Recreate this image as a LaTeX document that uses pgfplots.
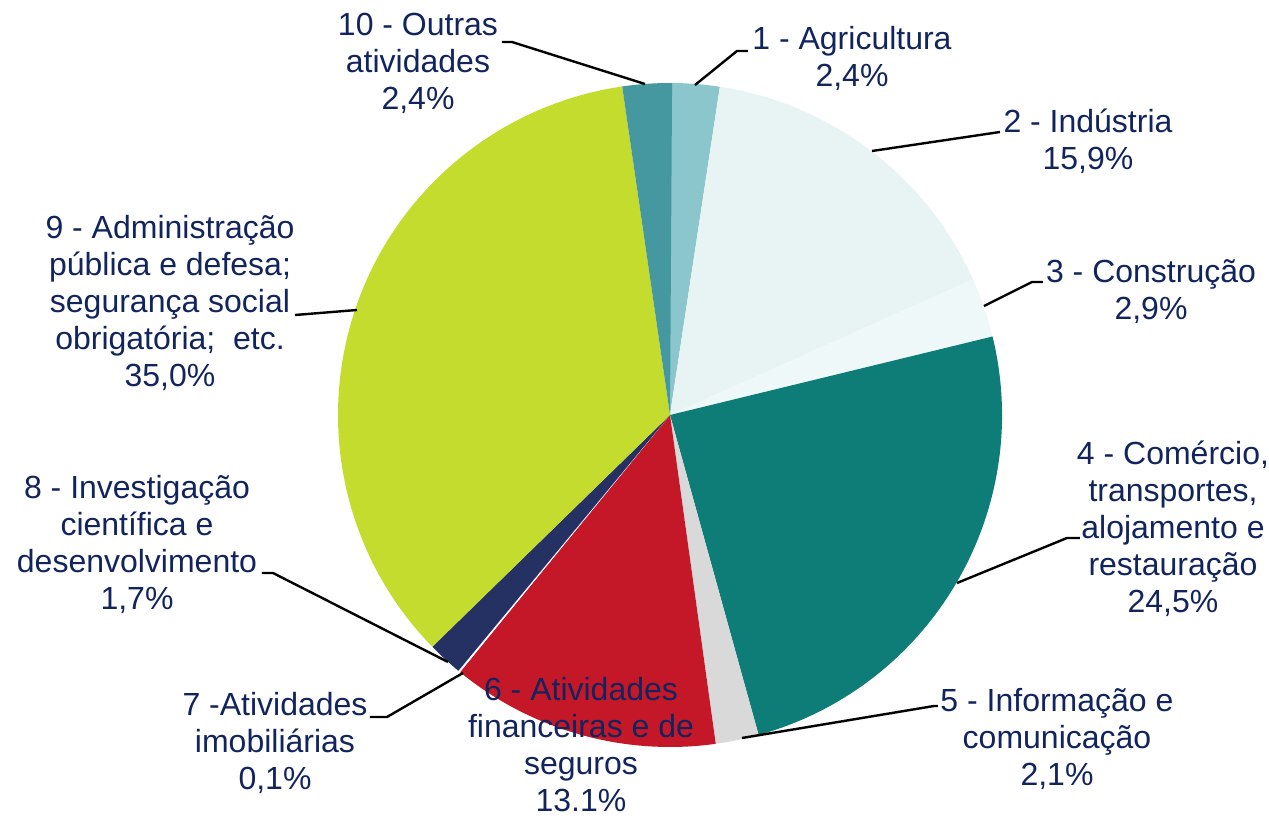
\documentclass[border=0pt]{standalone}
\usepackage{fontspec}
\setmainfont{Liberation Sans}
\usepackage{pgfplots}
\usepackage{pgfplotstable}
\pgfplotsset{compat=1.18}

\definecolor{c1}{HTML}{8AC6CC}
\definecolor{c2}{HTML}{E8F4F4}
\definecolor{c3}{HTML}{EFF8F8}
\definecolor{c4}{HTML}{0E7C77}
\definecolor{c5}{HTML}{D9D9D9}
\definecolor{c6}{HTML}{C41828}
\definecolor{c7}{HTML}{FFFFFF}
\definecolor{c8}{HTML}{263163}
\definecolor{c9}{HTML}{C4DC2E}
\definecolor{c10}{HTML}{4598A0}
\definecolor{txt}{HTML}{12245E}

% anchor=base sits on the last line of a multi-line label
\tikzset{
    lbl/.style={font=\fontsize{16}{18.5}\selectfont, text=txt,
        align=center, anchor=base, inner sep=0pt},
    leader/.style={black, line width=1.2pt},
}

% share of each sector, clockwise from 12 o'clock
\pgfplotstableread{
val  col
2.4  c1
15.9 c2
2.9  c3
24.5 c4
2.1  c5
13.1 c6
0.1  c7
1.7  c8
35.0 c9
2.4  c10
}\piedata

\begin{document}
\begin{tikzpicture}
\begin{axis}[
    x=0.5pt, y=0.5pt, y dir=reverse,
    xmin=0, xmax=1269, ymin=0, ymax=818,
    scale only axis, hide axis, clip=false,
]
\path (rel axis cs:0,0) rectangle (rel axis cs:1,1);
\def\cum{0}
\pgfplotsforeachungrouped \i in {0,1,2,3,4,5,6,7,8,9}{%
  \pgfplotstablegetelem{\i}{val}\of\piedata \let\v\pgfplotsretval
  \pgfplotstablegetelem{\i}{col}\of\piedata \let\c\pgfplotsretval
  \pgfmathsetmacro\a{90-3.6*\cum}%
  \pgfmathsetmacro\cum{\cum+\v}%
  \pgfmathsetmacro\b{90-3.6*\cum}%
  \edef\tmp{\noexpand\fill[\c] (axis cs:670,415) -- ++(\a:166pt)
    arc[start angle=\a, end angle=\b, radius=166pt] -- cycle;}%
  \tmp
}

% leader lines
\draw[leader] (axis cs:748,51) -- (axis cs:737,51) -- (axis cs:695,85);
\draw[leader] (axis cs:1000,132) -- (axis cs:872,151);
\draw[leader] (axis cs:1043,282) -- (axis cs:1032,282) -- (axis cs:984,306);
\draw[leader] (axis cs:1080,538) -- (axis cs:1067,538) -- (axis cs:957,583);
\draw[leader] (axis cs:938,706) -- (axis cs:934,706) -- (axis cs:742,738);
\draw[leader] (axis cs:370,717) -- (axis cs:387,717) -- (axis cs:463,673);
\draw[leader] (axis cs:262,573) -- (axis cs:273,573) -- (axis cs:448,662);
\draw[leader] (axis cs:295,315) -- (axis cs:357,310);
\draw[leader] (axis cs:502,42) -- (axis cs:512,42) -- (axis cs:645,84);

% labels (y = baseline of the last line)
\node[lbl] at (axis cs:852,87) {1 - Agricultura\\2,4\%};
\node[lbl] at (axis cs:1088,170) {2 - Indústria\\15,9\%};
\node[lbl] at (axis cs:1151,320) {3 - Construção\\2,9\%};
\node[lbl] at (axis cs:1173,613) {4 - Comércio,\\transportes,\\alojamento e\\restauração\\24,5\%};
\node[lbl] at (axis cs:1057,786) {5 - Informação e\\comunicação\\2,1\%};
\node[lbl] at (axis cs:581,812) {6 - Atividades\\financeiras e de\\seguros\\13.1\%};
\node[lbl] at (axis cs:275,790) {7 -Atividades\\imobiliárias\\0,1\%};
\node[lbl] at (axis cs:137,610) {8 - Investigação\\científica e\\desenvolvimento\\1,7\%};
\node[lbl] at (axis cs:170,387) {9 - Administração\\pública e defesa;\\segurança social\\obrigatória;\ \ etc.\\35,0\%};
\node[lbl] at (axis cs:418,110) {10 - Outras\\atividades\\2,4\%};
\end{axis}
\end{tikzpicture}
\end{document}
